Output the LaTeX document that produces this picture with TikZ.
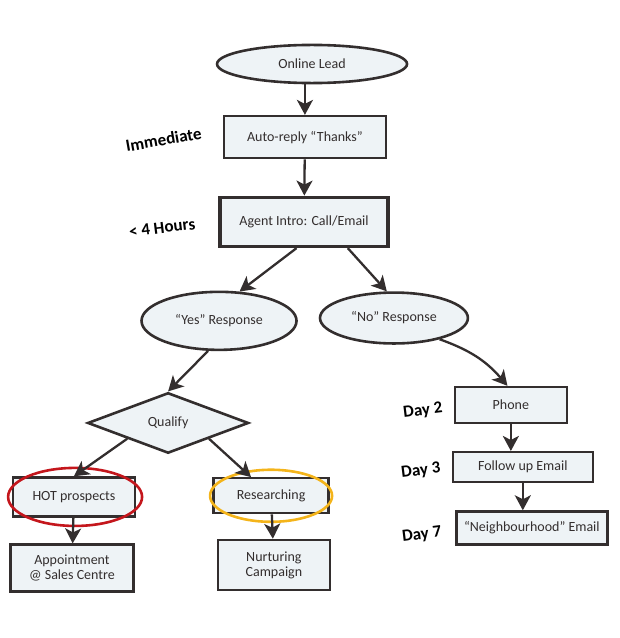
\documentclass[tikz,border=0pt]{standalone}
\usepackage{fontspec}
\setmainfont{Carlito}
\usepackage{tikz}
\usetikzlibrary{arrows.meta,shapes.geometric}
\usepackage{xcolor}

\definecolor{ink}{HTML}{332E2E}
\definecolor{paper}{HTML}{EEF3F6}
\definecolor{hotred}{HTML}{C4161C}
\definecolor{warmgold}{HTML}{F4B41A}

\tikzset{
	box/.style = {rectangle,
		draw = ink,
		line width = 2.3pt,
		text = ink,
		fill = paper,
		align = center,
		inner sep = 2pt,
		font = \fontsize{14}{15}\selectfont},
	oval/.style = {box, ellipse, line width = 2.6pt},
	choice/.style = {box, diamond, line width = 2.6pt},
	ring/.style = {ellipse,
		draw = #1,
		line width = 2.6pt,
		inner sep = 0pt},
	note/.style = {text = black,
		font = \fontsize{17}{18}\selectfont\bfseries},
	flow/.style = {draw = ink,
		line width = 2.3pt,
		-{Stealth[length = 15pt, width = 16pt, inset = 4pt]}}
}

\begin{document}
\begin{tikzpicture}
	
	\useasboundingbox (0cm,0cm) rectangle (21.79cm,-22.43cm);
	
	\node[oval,
	minimum width = 6.68cm,
	minimum height = 1.34cm] (lead) at (10.97cm,-2.25cm) {Online Lead};
	
	\node[box,
	minimum width = 5.69cm,
	minimum height = 1.48cm] (auto) at (10.72cm,-4.82cm) {Auto-reply ``Thanks''};
	
	\node[box,
	line width = 3.6pt,
	minimum width = 5.90cm,
	minimum height = 1.72cm] (agent) at (10.69cm,-7.80cm) {Agent Intro: Call/Email};
	
	\node[oval,
	minimum width = 5.45cm,
	minimum height = 2.04cm] (yes) at (7.70cm,-11.28cm) {``Yes'' Response};
	
	\node[oval,
	minimum width = 5.20cm,
	minimum height = 1.79cm] (no) at (13.85cm,-11.18cm) {``No'' Response};
	
	\node[choice,
	minimum width = 5.66cm,
	minimum height = 2.07cm] (qualify) at (5.91cm,-14.87cm) {Qualify};
	
	\node[box,
	minimum width = 4.29cm,
	minimum height = 1.37cm] (hot) at (2.60cm,-17.47cm) {HOT prospects};
	
	\node[box,
	minimum width = 4.04cm,
	minimum height = 1.23cm] (res) at (9.53cm,-17.43cm) {Researching};
	
	\node[box,
	minimum width = 4.32cm,
	minimum height = 1.65cm] (app) at (2.53cm,-19.97cm) {Appointment\\@ Sales Centre};
	
	\node[box,
	minimum width = 3.94cm,
	minimum height = 1.76cm] (nurt) at (9.63cm,-19.86cm) {Nurturing\\Campaign};
	
	\node[box,
	minimum width = 3.94cm,
	minimum height = 1.27cm] (phone) at (17.96cm,-14.24cm) {Phone};
	
	\node[box,
	minimum width = 4.92cm,
	minimum height = 1.05cm] (follow) at (18.38cm,-16.42cm) {Follow up Email};
	
	\node[box,
	minimum width = 5.31cm,
	minimum height = 1.16cm] (neigh) at (18.70cm,-18.56cm) {``Neighbourhood'' Email};
	
	
	\node[ring = hotred,
	minimum width = 4.71cm,
	minimum height = 2.04cm] (hotring) at (2.64cm,-17.47cm) {};
	
	\node[ring = warmgold,
	minimum width = 4.29cm,
	minimum height = 1.83cm] (resring) at (9.53cm,-17.43cm) {};
	
	
	\node[note, rotate = 10] (immediate) at (5.75cm,-4.90cm) {Immediate};
	\node[note, rotate = 7] (hours) at (5.70cm,-8.01cm) {< 4 Hours};
	\node[note, rotate = 7] (day2) at (14.87cm,-14.45cm) {Day 2};
	\node[note, rotate = 7] (day3) at (14.80cm,-16.56cm) {Day 3};
	\node[note, rotate = 7] (day7) at (14.83cm,-18.81cm) {Day 7};
	
	
	\draw[flow] (auto.north |- lead.south) to (auto.north);
	\draw[flow] (auto) to (agent);
	\draw[flow] (agent.-106) to (yes.55);
	\draw[flow] (agent.-31) to (no.105);
	
	\draw[flow] (yes.-110) to (qualify.north);
	\draw[flow] (qualify.south west) to (hot.north);
	\draw[flow] (qualify.south east) to (res.137);
	\draw[flow] (hot) to (app);
	\draw[flow] (res) to (nurt);
	
	\draw[flow] (no.-25) to[bend left = 15] (phone.100);
	\draw[flow] (phone.south) to (phone.south |- follow.north);
	\draw[flow] (follow.south) to (follow.south |- neigh.north);
	
\end{tikzpicture}
\end{document}
